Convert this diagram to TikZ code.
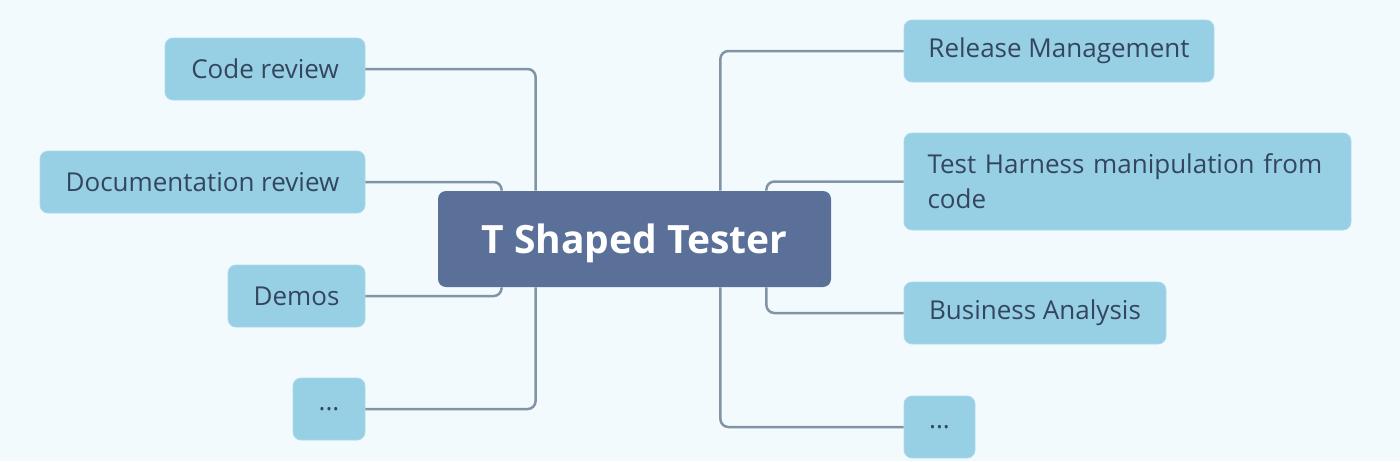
\documentclass[tikz,border=0pt]{standalone}
\usepackage{fontspec}
\setmainfont{Open Sans}
\usepackage{xcolor}
\definecolor{bgcol}{HTML}{F3FAFE}
\definecolor{leafcol}{HTML}{97D0E5}
\definecolor{leaftext}{HTML}{34465E}
\definecolor{rootcol}{HTML}{5A7099}
\definecolor{linkcol}{HTML}{8094A6}

\tikzset{
  leaf/.style={rectangle,rounded corners=4pt,fill=leafcol,draw=leafcol!80!white,
    text=leaftext,minimum height=31pt,inner sep=0pt,
    font=\fontsize{13}{17.5}\selectfont},
  root/.style={rectangle,rounded corners=4pt,fill=rootcol,text=white,
    minimum width=196.5pt,minimum height=48pt,inner sep=0pt,text depth=0pt,
    font=\fontsize{19.5}{23}\selectfont\bfseries},
  link/.style={draw=linkcol,line width=1.25pt,rounded corners=4pt}
}

\begin{document}
\begin{tikzpicture}[x=0.5pt,y=-0.5pt]
\fill[bgcol] (0,0) rectangle (1400,461);

% centre
\node [root] (tester) at (634.5,239) {T Shaped Tester};

% left side
\node [leaf,minimum width=100pt] (code) at (265,69) {Code review};
\node [leaf,minimum width=162.5pt] (doc) at (202.5,182) {Documentation review};
\node [leaf,minimum width=68.5pt] (demos) at (296.5,296) {Demos};
\node [leaf,minimum width=36pt] (lmore) at (329,409) {...};

% right side
\node [leaf,minimum width=155pt] (release) at (1059,51) {Release Management};
\node [leaf,minimum width=223.5pt,minimum height=48.5pt,text width=200pt,align=left]
  (harness) at (1127.5,181.5) {Test Harness manipulation from\\code};
\node [leaf,minimum width=131pt] (business) at (1035,313) {Business Analysis};
\node [leaf,minimum width=35.5pt] (rmore) at (939.5,427) {...};

% connectors
\draw [link] (code.east) -| ([xshift=49pt]tester.north west);
\draw [link] (doc.east) -| ([xshift=32pt]tester.north west);
\draw [link] (demos.east) -| ([xshift=32pt]tester.south west);
\draw [link] (lmore.east) -| ([xshift=49pt]tester.south west);
\draw [link] (release.west) -| ([xshift=-55.5pt]tester.north east);
\draw [link] (harness.west) -| ([xshift=-32.5pt]tester.north east);
\draw [link] (business.west) -| ([xshift=-32.5pt]tester.south east);
\draw [link] (rmore.west) -| ([xshift=-55.5pt]tester.south east);

\end{tikzpicture}
\end{document}
